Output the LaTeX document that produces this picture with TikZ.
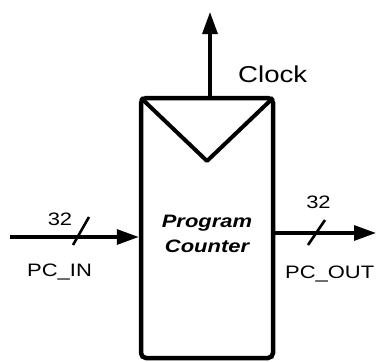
\documentclass[tikz,border=0pt]{standalone}
\usepackage{fontspec}
\setmainfont{Liberation Sans}
\usetikzlibrary{arrows.meta,calc}
\tikzset{
  pcbox/.style={draw, line width=4.5pt, rounded corners=5pt, minimum width=132pt, minimum height=260pt, inner sep=0pt},
  wire/.style={line width=3.2pt, -{Triangle[length=22pt,width=15pt]}},
  slash/.style={line width=2.6pt},
  lbl/.style={inner sep=0pt, font=\fontsize{18}{22}\selectfont},
}
\begin{document}
\begin{tikzpicture}[x=1pt,y=-1pt]
\useasboundingbox (0,0) rectangle (376,362);
\node[pcbox] (box) at (207,228) {};
\draw[line width=4pt, line join=round] ($(box.north west)+(2,2)$) coordinate (vl) -- (207,161) coordinate (vb) -- ($(box.north east)+(-2,2)$);
\node[inner sep=0pt, align=center, font=\fontsize{18}{25}\selectfont\bfseries\itshape] (name) at (207,234) {\scalebox{1.22}[1]{Program}\\\scalebox{1.22}[1]{Counter}};
\coordinate (clk) at (210,12);
\draw[wire] (clk |- box.north) -- (clk);
\node[inner sep=0pt, anchor=base west, font=\fontsize{23}{26}\selectfont] (clock) at (238,82) {\scalebox{1.2}[1]{Clock}};
\coordinate (in) at (10,237);
\draw[wire] (in) -- (in -| box.west);
\coordinate (out) at (376,233);
\draw[wire] (out -| box.east) -- (out);
\coordinate (s1a) at (73,245); \coordinate (s1b) at (89,217);
\draw[slash] (s1a) -- (s1b);
\coordinate (s2a) at (308,245); \coordinate (s2b) at (325,220);
\draw[slash] (s2a) -- (s2b);
\node[lbl, anchor=base] (w1) at (60,225) {\scalebox{1.22}[1]{32}};
\node[lbl, anchor=base] (w2) at (318.5,208) {\scalebox{1.22}[1]{32}};
\node[lbl, anchor=base west] (pcin) at (27,276) {\scalebox{1.22}[1]{PC\_IN}};
\node[lbl, anchor=base west] (pcout) at (285,278) {\scalebox{1.22}[1]{PC\_OUT}};
\end{tikzpicture}
\end{document}
